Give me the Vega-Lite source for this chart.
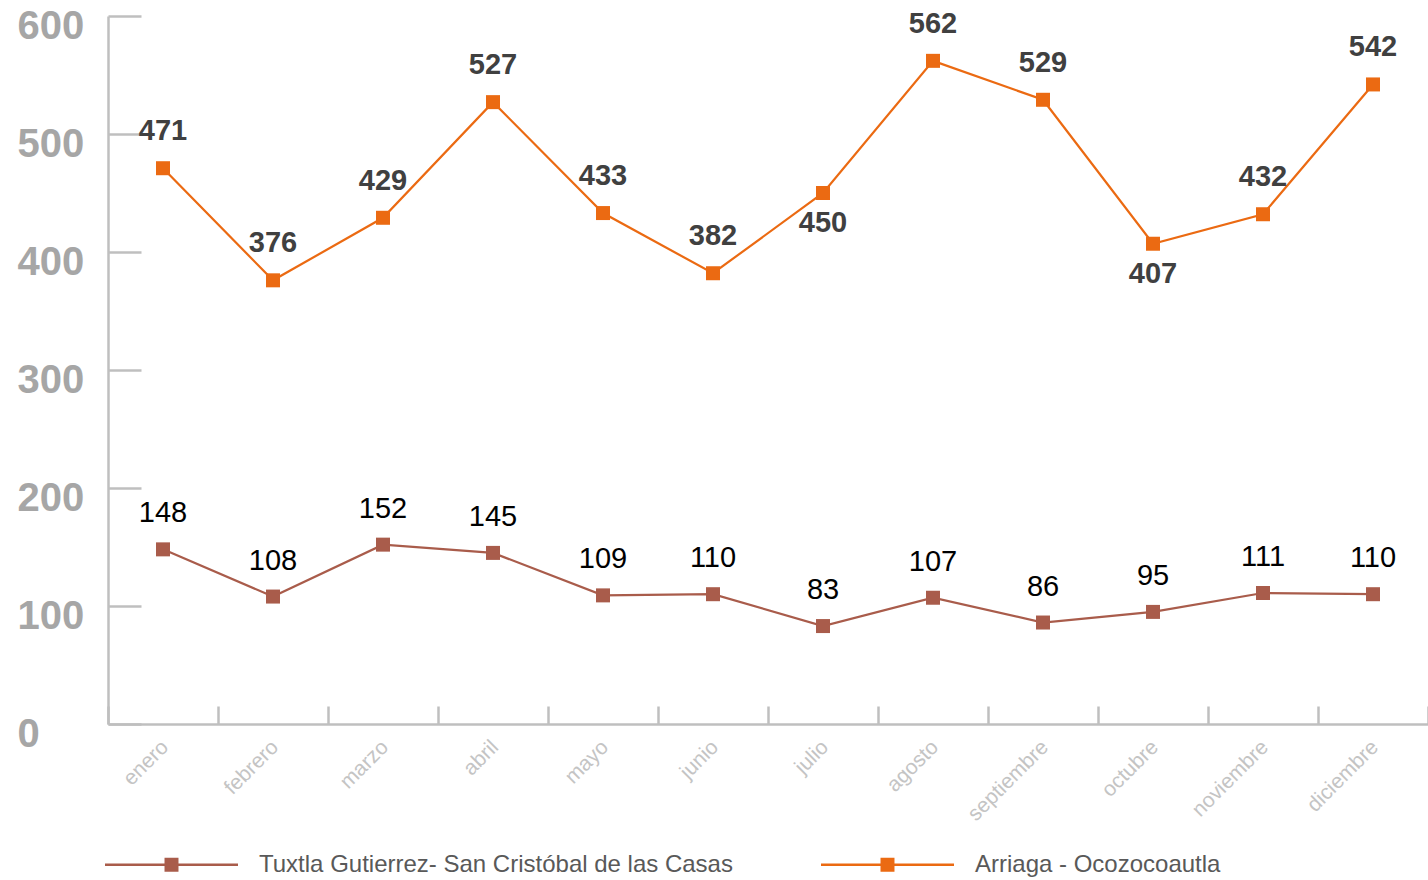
{
  "$schema": "https://vega.github.io/schema/vega-lite/v6.json",
  "width": 1320,
  "height": 708,
  "autosize": {"type": "none"},
  "padding": {"left": 108, "top": 16, "right": 0, "bottom": 156},
  "background": "white",
  "config": {
    "font": "Liberation Sans",
    "view": {"stroke": null}
  },
  "data": {
    "values": [
      {"mes": "enero", "serie": "Tuxtla Gutierrez- San Cristóbal de las Casas", "valor": 148},
      {"mes": "febrero", "serie": "Tuxtla Gutierrez- San Cristóbal de las Casas", "valor": 108},
      {"mes": "marzo", "serie": "Tuxtla Gutierrez- San Cristóbal de las Casas", "valor": 152},
      {"mes": "abril", "serie": "Tuxtla Gutierrez- San Cristóbal de las Casas", "valor": 145},
      {"mes": "mayo", "serie": "Tuxtla Gutierrez- San Cristóbal de las Casas", "valor": 109},
      {"mes": "junio", "serie": "Tuxtla Gutierrez- San Cristóbal de las Casas", "valor": 110},
      {"mes": "julio", "serie": "Tuxtla Gutierrez- San Cristóbal de las Casas", "valor": 83},
      {"mes": "agosto", "serie": "Tuxtla Gutierrez- San Cristóbal de las Casas", "valor": 107},
      {"mes": "septiembre", "serie": "Tuxtla Gutierrez- San Cristóbal de las Casas", "valor": 86},
      {"mes": "octubre", "serie": "Tuxtla Gutierrez- San Cristóbal de las Casas", "valor": 95},
      {"mes": "noviembre", "serie": "Tuxtla Gutierrez- San Cristóbal de las Casas", "valor": 111},
      {"mes": "diciembre", "serie": "Tuxtla Gutierrez- San Cristóbal de las Casas", "valor": 110},
      {"mes": "enero", "serie": "Arriaga - Ocozocoautla", "valor": 471},
      {"mes": "febrero", "serie": "Arriaga - Ocozocoautla", "valor": 376},
      {"mes": "marzo", "serie": "Arriaga - Ocozocoautla", "valor": 429},
      {"mes": "abril", "serie": "Arriaga - Ocozocoautla", "valor": 527},
      {"mes": "mayo", "serie": "Arriaga - Ocozocoautla", "valor": 433},
      {"mes": "junio", "serie": "Arriaga - Ocozocoautla", "valor": 382},
      {"mes": "julio", "serie": "Arriaga - Ocozocoautla", "valor": 450},
      {"mes": "agosto", "serie": "Arriaga - Ocozocoautla", "valor": 562},
      {"mes": "septiembre", "serie": "Arriaga - Ocozocoautla", "valor": 529},
      {"mes": "octubre", "serie": "Arriaga - Ocozocoautla", "valor": 407},
      {"mes": "noviembre", "serie": "Arriaga - Ocozocoautla", "valor": 432},
      {"mes": "diciembre", "serie": "Arriaga - Ocozocoautla", "valor": 542}
    ]
  },
  "encoding": {
    "x": {
      "field": "mes",
      "type": "nominal",
      "sort": ["enero","febrero","marzo","abril","mayo","junio","julio","agosto","septiembre","octubre","noviembre","diciembre"],
      "scale": {"type": "band", "paddingInner": 0, "paddingOuter": 0},
      "axis": {
        "title": null,
        "grid": false,
        "tickBand": "extent",
        "tickSize": -18,
        "tickWidth": 2.5,
        "tickColor": "#bfbfbf",
        "domainColor": "#bfbfbf",
        "domainWidth": 2.5,
        "labelAngle": -45,
        "labelPadding": 30,
        "labelOffset": -6,
        "labelFontSize": 21,
        "labelColor": "#c4c4c4"
      }
    },
    "y": {
      "field": "valor",
      "type": "quantitative",
      "scale": {"domain": [0, 600], "nice": false},
      "axis": {
        "title": null,
        "grid": false,
        "values": [0, 100, 200, 300, 400, 500, 600],
        "tickSize": -33,
        "tickWidth": 2.5,
        "tickColor": "#bfbfbf",
        "domainColor": "#bfbfbf",
        "domainWidth": 2.5,
        "labelPadding": 124,
        "labelAlign": "left",
        "labelBaseline": "middle",
        "labelOffset": 10,
        "labelFontSize": 40,
        "labelFontWeight": "bold",
        "labelColor": "#a6a6a6"
      }
    },
    "color": {
      "field": "serie",
      "type": "nominal",
      "scale": {
        "domain": ["Tuxtla Gutierrez- San Cristóbal de las Casas", "Arriaga - Ocozocoautla"],
        "range": ["#a95c4b", "#eb6a12"]
      },
      "legend": {
        "title": null,
        "orient": "none",
        "legendX": -3,
        "legendY": 782,
        "direction": "horizontal",
        "columns": 2,
        "columnPadding": 88,
        "padding": 0,
        "symbolType": "M-1,-0.019H1V0.019H-1Z M-0.105,-0.105H0.105V0.105H-0.105Z",
        "symbolSize": 17689,
        "symbolStrokeWidth": 0,
        "labelOffset": 21,
        "labelFontSize": 24,
        "labelColor": "#595959",
        "labelLimit": 0,
        "encode": {
          "symbols": {
            "update": {
              "fill": {"scale": "color", "field": "value"},
              "fillOpacity": {"value": 1},
              "strokeWidth": {"value": 0}
            }
          }
        }
      }
    }
  },
  "layer": [
    {"mark": {"type": "line", "strokeWidth": 2.2}},
    {"mark": {"type": "point", "shape": "square", "size": 196, "filled": true, "opacity": 1}},
    {
      "transform": [{"filter": "datum.serie === 'Tuxtla Gutierrez- San Cristóbal de las Casas'"}],
      "mark": {"type": "text", "dy": -36, "fontSize": 29, "color": "#000000", "baseline": "middle"},
      "encoding": {"text": {"field": "valor", "type": "quantitative"}, "color": {"value": "#000000"}}
    },
    {
      "transform": [{"filter": "datum.serie === 'Arriaga - Ocozocoautla' && datum.mes !== 'julio' && datum.mes !== 'octubre'"}],
      "mark": {"type": "text", "dy": -37, "fontSize": 29, "fontWeight": "bold", "baseline": "middle"},
      "encoding": {"text": {"field": "valor", "type": "quantitative"}, "color": {"value": "#404040"}}
    },
    {
      "transform": [{"filter": "datum.serie === 'Arriaga - Ocozocoautla' && (datum.mes === 'julio' || datum.mes === 'octubre')"}],
      "mark": {"type": "text", "dy": 30, "fontSize": 29, "fontWeight": "bold", "baseline": "middle"},
      "encoding": {"text": {"field": "valor", "type": "quantitative"}, "color": {"value": "#404040"}}
    }
  ]
}
